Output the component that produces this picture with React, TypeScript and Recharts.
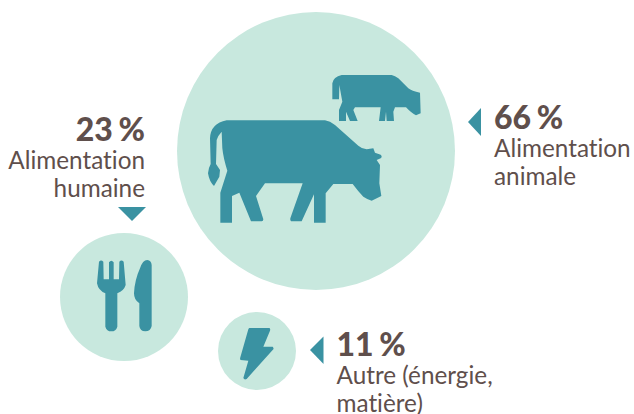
import React from "react";
import { ScatterChart, Scatter, XAxis, YAxis, ZAxis } from "recharts";

const W = 634;
const H = 414;

const categories = ["animal", "human", "other"];
const percentLabels = ["66 %", "23 %", "11 %"];
const descriptionLines = [
  ["Alimentation", "animale"],
  ["Alimentation", "humaine"],
  ["Autre (énergie,", "matière)"],
];
const bubbleX = [316, 124, 257];
const bubbleY = [151, 297, 351];
const bubbleArea = [19321, 4096, 1521];

const chartData = categories.map((category, i) => ({
  category,
  x: bubbleX[i],
  y: bubbleY[i],
  area: bubbleArea[i],
  percent: percentLabels[i],
  lines: descriptionLines[i],
}));

const BUBBLE = "#c8e8de";
const ICON = "#3a92a2";
const TEXT = "#5f4f4c";
const FONT = "Lato, sans-serif";

const cowBig =
  "M110 181 L405 181 Q420 183 435 195 L505 257 Q515 266 530 268 L550 265 L555 278 L572 284 Q578 290 572 295 L560 300 L570 315 L568 370 L574 408 L545 422 Q535 420 520 410 Q505 395 488 372 L430 372 L407 400 L407 488 L372 488 L372 403 L335 484 L303 484 Q299 480 302 472 L338 370 L225 370 L198 408 L220 478 Q220 484 215 484 L183 484 L148 398 L126 408 L126 488 L91 488 L91 398 L112 332 Q100 295 97 265 L95 215 Q85 225 80 240 L78 312 L90 330 L88 350 L72 378 Q58 365 54 340 Q56 322 62 312 L60 235 Q62 190 110 181 Z";
const cowSmall =
  "M455 45 L605 45 Q615 47 625 55 L655 85 Q665 93 690 98 L692 160 L678 166 Q665 160 648 142 L615 142 L610 155 L612 183 L590 183 L588 155 L585 183 L567 183 L572 142 L495 142 L490 150 L503 183 L480 183 L468 155 L468 183 L447 183 L447 150 L457 125 L448 75 L447 118 L427 118 L427 70 Q430 50 455 45 Z";
const fork =
  "M117 95 Q123 88 130 95 L131 148 L147 148 L147 97 Q154 88 161 97 L161 148 L177 148 L178 95 Q184 88 191 95 L197 165 Q192 182 172 190 L172 290 Q168 304 154 304 Q140 304 136 290 L136 190 Q115 182 111 160 Z";
const knife =
  "M240 115 Q248 90 262 90 Q274 92 275 105 L275 288 Q272 304 256 304 Q240 304 238 288 L238 220 Q222 210 222 190 Q224 150 240 115 Z";
const bolt =
  "M568 294 L628 294 Q632 296 630 302 L610 350 L638 350 Q642 354 640 358 L560 447 Q553 451 550 444 L565 392 L542 390 Q539 388 541 382 L565 298 Q566 295 568 294 Z";

const iconLayout: Record<string, { paths: string[]; ox: number; oy: number }> = {
  animal: { paths: [cowBig, cowSmall], ox: 378, oy: 273 },
  human: { paths: [fork, knife], ox: 192, oy: 201 },
  other: { paths: [bolt], ox: 591, oy: 363 },
};

const labelLayout: Record<
  string,
  { x: number; y: number; anchor: "start" | "end"; arrow: string }
> = {
  animal: { x: 494, y: 129, anchor: "start", arrow: "481,108 468,122 481,136" },
  human: { x: 145, y: 141, anchor: "end", arrow: "118,207 146,207 132,221" },
  other: { x: 336.5, y: 356, anchor: "start", arrow: "323.5,336.5 310,350 323.5,364" },
};

function BubbleShape(props: any) {
  const { cx, cy, width, payload } = props;
  const icon = iconLayout[payload.category];
  const label = labelLayout[payload.category];
  return (
    <g>
      <circle cx={cx} cy={cy} r={width / 2} fill={BUBBLE} />
      <g transform={`translate(${cx} ${cy}) scale(${1 / 3}) translate(${-icon.ox} ${-icon.oy})`}>
        {icon.paths.map((d) => (
          <path key={d} d={d} fill={ICON} />
        ))}
      </g>
      <polygon points={label.arrow} fill={ICON} />
      <text
        x={label.x}
        y={label.y}
        textAnchor={label.anchor}
        fontFamily={FONT}
        fontWeight={900}
        fontSize={32}
        fill={TEXT}
        style={{ fontVariantLigatures: "none", wordSpacing: -2 }}
      >
        {payload.percent}
      </text>
      {payload.lines.map((line: string, i: number) => (
        <text
          key={line}
          x={label.x}
          y={label.y + 27.5 + i * 28}
          textAnchor={label.anchor}
          fontFamily={FONT}
          fontSize={24.3}
          fill={TEXT}
          style={{ fontVariantLigatures: "none" }}
        >
          {line}
        </text>
      ))}
    </g>
  );
}

export default function App() {
  return (
    <div style={{ position: "absolute", left: 0, top: 0, width: W, height: H }}>
      <ScatterChart width={W} height={H} margin={{ top: 0, right: 0, bottom: 0, left: 0 }}>
        <XAxis type="number" dataKey="x" domain={[0, W]} hide />
        <YAxis type="number" dataKey="y" domain={[0, H]} reversed hide />
        <ZAxis type="number" dataKey="area" domain={[0, 19321]} range={[0, 19321 * Math.PI]} />
        <Scatter data={chartData} shape={BubbleShape} isAnimationActive={false} />
      </ScatterChart>
    </div>
  );
}
